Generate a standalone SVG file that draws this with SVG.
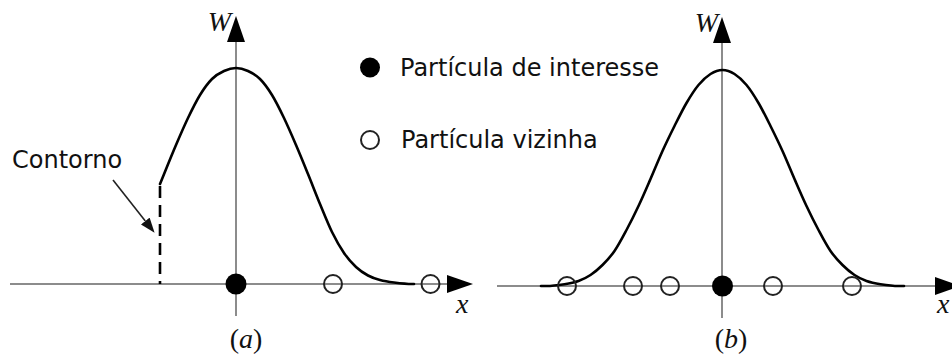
<svg xmlns="http://www.w3.org/2000/svg" width="952" height="362" viewBox="0 0 952 362">
<defs>
<marker id="axhead" markerUnits="userSpaceOnUse" markerWidth="26" markerHeight="18" refX="0" refY="9" orient="auto">
<path d="M0,0 L26,9 L0,18 z" fill="#000"/>
</marker>
<marker id="smallhead" markerUnits="userSpaceOnUse" markerWidth="15" markerHeight="11" refX="0" refY="5.5" orient="auto">
<path d="M0,0 L15,5.5 L0,11 z" fill="#111"/>
</marker>
<style>
.axis{stroke:#8c8c8c;stroke-width:2;fill:none}
.kernel{stroke:#000;stroke-width:2.6;fill:none;stroke-linecap:round;stroke-linejoin:round}
.open{fill:none;stroke:#222;stroke-width:2}
.full{fill:#000}
.lbl{font-family:"DejaVu Sans",Verdana,sans-serif;font-size:24px;fill:#111}
.math{font-family:"Liberation Serif","Times New Roman",serif;font-size:28px;fill:#111}
.it{font-style:italic}
</style>
</defs>

<g id="connectors">
<line class="axis" x1="236" y1="316" x2="236" y2="42" marker-end="url(#axhead)"/>
<line class="axis" x1="10" y1="284" x2="447" y2="284" marker-end="url(#axhead)"/>
<line class="axis" x1="722" y1="318" x2="722" y2="43" marker-end="url(#axhead)"/>
<line class="axis" x1="497" y1="286" x2="935" y2="286" marker-end="url(#axhead)"/>
<line x1="113" y1="180" x2="145.3" y2="221" stroke="#222" stroke-width="1.6" marker-end="url(#smallhead)"/>
</g>

<g id="kernel-a">
<path class="kernel" d="M160,184 C165.3,171 171.3,156 176,145 S184,126.3 188,118 S196,101.5 200,95 S208,83 212,79 S220,72.83 224,71 S232,68 236,68 S244,69.17 248,71 S256,75 260,79 S268,88.5 272,95 S280,109.67 284,118 S292,135.67 296,145 S304,164.17 308,174 S316,194.33 320,204 S328,223.83 332,232 S340,247.17 344,253 S352,263.25 356,267 S364,273.33 368,275.5 S375.67,278.83 380,280 S388.67,281.83 394,282.5 S406,284 412,284 L414,284"/>
</g>
<g id="contorno">
<line x1="160" y1="186" x2="160" y2="284" stroke="#000" stroke-width="2.6" stroke-dasharray="12 7"/>
<text class="lbl" x="12" y="168">Contorno</text>
</g>

<g id="kernel-b">
<path class="kernel" d="M541,286 L546.5,286 C552.5,286 559.17,285.03 564.5,284.2 S574.17,282.53 578.5,281 S586.5,277.67 590.5,275 S598.5,269 602.5,265 S610.5,256.83 614.5,251 S622.5,237.5 626.5,230 S634.5,214.5 638.5,206 S646.5,188.17 650.5,179 S658.5,159.83 662.5,151 S670.5,134 674.5,126 S682.5,109.83 686.5,103 S694.5,89.83 698.5,85 S706.5,76.5 710.5,74 S718.5,70 722.5,70 S730.5,71.5 734.5,74 S742.5,80.17 746.5,85 S754.5,96.17 758.5,103 S766.5,118 770.5,126 S778.5,142.17 782.5,151 S790.5,169.83 794.5,179 S802.5,197.5 806.5,206 S814.5,222.5 818.5,230 S826.5,245.17 830.5,251 S838.5,261 842.5,265 S850.5,272.33 854.5,275 S862.17,279.47 866.5,281 S875.17,283.37 880.5,284.2 S892.5,286 898.5,286 L904,286"/>
</g>

<g id="particles-a">
<circle class="full" cx="236" cy="284" r="10.5"/>
<circle class="open" cx="333" cy="284" r="9"/>
<circle class="open" cx="430.5" cy="284" r="9"/>
</g>
<g id="particles-b">
<circle class="open" cx="567" cy="286" r="9"/>
<circle class="open" cx="633" cy="286" r="9"/>
<circle class="open" cx="670" cy="286" r="9"/>
<circle class="full" cx="722.5" cy="286" r="10.5"/>
<circle class="open" cx="773" cy="286" r="9"/>
<circle class="open" cx="852" cy="286" r="9"/>
</g>

<g id="legend">
<circle class="full" cx="370" cy="67.5" r="10"/>
<text class="lbl" x="400" y="76">Partícula de interesse</text>
<circle class="open" cx="370" cy="140" r="9"/>
<text class="lbl" x="401" y="148">Partícula vizinha</text>
</g>

<g id="labels-a">
<text class="math it" x="231" y="31" text-anchor="end">W</text>
<text class="math it" x="456" y="313">x</text>
<text class="math" x="246" y="348" text-anchor="middle">(<tspan class="it">a</tspan>)</text>
</g>
<g id="labels-b">
<text class="math it" x="718" y="32" text-anchor="end">W</text>
<text class="math it" x="937" y="313">x</text>
<text class="math" x="731" y="348" text-anchor="middle">(<tspan class="it">b</tspan>)</text>
</g>
</svg>
